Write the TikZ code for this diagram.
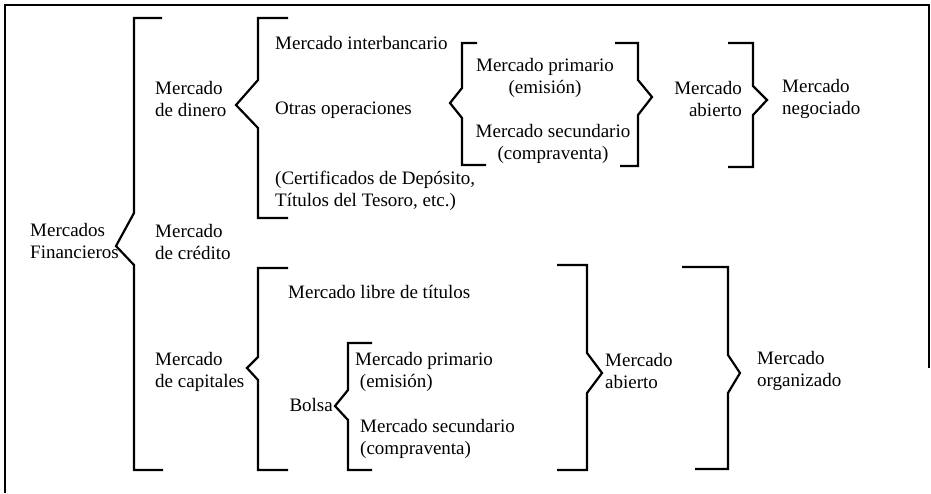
\documentclass[tikz,border=0pt]{standalone}
\usepackage{fontspec}
\setmainfont{Liberation Serif}
\usepackage{tikz}
\usetikzlibrary{calc, positioning}

\begin{document}
\begin{tikzpicture}[x=1pt, y=-1pt,
	txt/.style={inner sep=0pt, align=left, anchor=west, font=\fontsize{19}{22}\selectfont},
	brk/.style={line width=2.2pt, line join=miter}]

		\useasboundingbox (0,0) rectangle (931,493);

		% frame %
		\draw[line width=1.8pt] (5,493) -- (5,5) -- (929,5) -- (929,368);

		% nodes - left column %
		\node[txt] (fin) at (30,241) {Mercados\\Financieros};
		\node[txt] (dinero) at (155,99) {Mercado\\de dinero};
		\node[txt] (credito) at (155,242) {Mercado\\de crédito};
		\node[txt] (capitales) at (155,372) {Mercado\\de capitales};

		% nodes - mercado de dinero %
		\node[txt] (interb) at (275,43) {Mercado interbancario};
		\node[txt] (otras) at (275,110) {Otras operaciones};
		\node[txt] (cert) at (275,191) {(Certificados de Depósito,\\Títulos del Tesoro, etc.)};
		\node[txt, align=center, anchor=center] (prim1) at (545,78) {Mercado primario\\(emisión)};
		\node[txt, align=center, anchor=center] (sec1) at (553,144) {Mercado secundario\\(compraventa)};
		\node[txt, align=right, anchor=east] (abierto1) at (742,99) {Mercado\\abierto};
		\node[txt] (negociado) at (782,99) {Mercado\\negociado};

		% nodes - mercado de capitales %
		\node[txt] (libre) at (288,292) {Mercado libre de títulos};
		\node[txt, anchor=east] (bolsa) at (333,405) {Bolsa};
		\node[txt] (prim2) at (355,372) {Mercado primario\\\ (emisión)};
		\node[txt] (sec2) at (360,439) {Mercado secundario\\(compraventa)};
		\node[txt] (abierto2) at (605,371) {Mercado\\abierto};
		\node[txt] (organizado) at (757,371) {Mercado\\organizado};

		% braces %
		\draw[brk] (162,18) -- (134,18) -- (134,213) -- (116,246) -- (134,265) -- (134,470) -- (163,470);
		\draw[brk] (288,18) -- (258,18) -- (258,80) -- (236,105) -- (258,128) -- (258,218) -- (288,218);
		\draw[brk] (477,43) -- (462,43) -- (462,88) -- (450,103) -- (462,118) -- (462,165) -- (486,165);
		\draw[brk] (615,43) -- (638,43) -- (638,80) -- (652,97) -- (638,115) -- (638,166) -- (620,166);
		\draw[brk] (728,43) -- (753,43) -- (753,86) -- (767,100) -- (753,115) -- (753,167) -- (728,167);
		\draw[brk] (288,268) -- (258,268) -- (258,357) -- (247,368) -- (258,380) -- (258,470) -- (288,470);
		\draw[brk] (372,343) -- (348,343) -- (348,390) -- (335,406) -- (348,420) -- (348,470) -- (372,470);
		\draw[brk] (557,265) -- (587,265) -- (587,353) -- (602,373) -- (587,393) -- (587,470) -- (557,470);
		\draw[brk] (682,267) -- (728,267) -- (728,355) -- (740,373) -- (728,393) -- (728,469) -- (695,469);

\end{tikzpicture}
\end{document}
